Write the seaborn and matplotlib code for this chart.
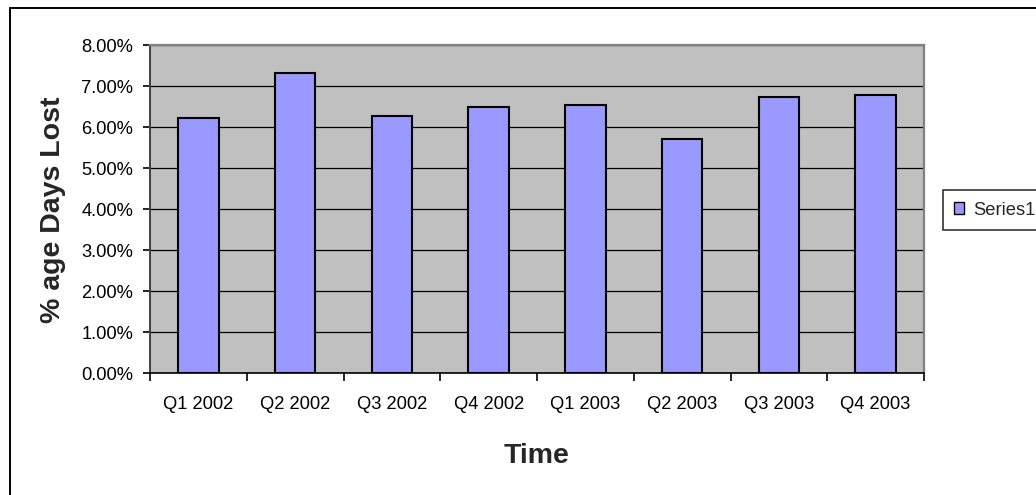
import matplotlib
matplotlib.use("Agg")
import matplotlib.pyplot as plt
import matplotlib.ticker as mticker
from matplotlib.patches import Rectangle
import pandas as pd
import seaborn as sns

# Quarterly absence rate (fraction of working days lost)
quarters = ["Q1 2002", "Q2 2002", "Q3 2002", "Q4 2002",
            "Q1 2003", "Q2 2003", "Q3 2003", "Q4 2003"]
days_lost = [0.0623, 0.0734, 0.0628, 0.0650, 0.0655, 0.0573, 0.0674, 0.0679]
series_name = "Series1"

df = pd.DataFrame({"Quarter": quarters, "Lost": days_lost,
                   "Series": [series_name] * len(quarters)})

sns.set_style("white")
plt.rcParams["font.family"] = ["Liberation Sans", "DejaVu Sans"]

W, H = 1036, 495
fig = plt.figure(figsize=(W / 100, H / 100), dpi=100)
ax = fig.add_axes([150 / W, 1 - 373.3 / H, (924 - 150) / W, (373.3 - 45.5) / H])

sns.barplot(data=df, x="Quarter", y="Lost", hue="Series",
            palette={series_name: "#9999FF"}, saturation=1, width=0.42,
            edgecolor="black", linewidth=1.5, ax=ax, zorder=3)

ax.set_facecolor("#C0C0C0")
ax.set_ylim(0, 0.08)
ax.set_xlim(-0.5, len(quarters) - 0.5)
ax.yaxis.set_major_locator(mticker.MultipleLocator(0.01))
ax.yaxis.set_major_formatter(mticker.PercentFormatter(xmax=1, decimals=2))
ax.grid(axis="y", color="black", linewidth=0.9, zorder=1)
ax.grid(axis="x", visible=False)
ax.set_axisbelow(True)

# category boundary ticks on the x axis
ax.xaxis.set_minor_locator(mticker.FixedLocator(
    [i - 0.5 for i in range(len(quarters) + 1)]))
ax.tick_params(axis="x", which="major", length=0, pad=16, labelsize=13.2,
               colors="black")
ax.tick_params(axis="x", which="minor", length=6, width=1.2, color="black",
               direction="out", bottom=True)
ax.tick_params(axis="y", which="major", length=5, width=1.2, color="black",
               direction="out", left=True, pad=7, labelsize=13.2,
               labelcolor="black")

for side in ("top", "right"):
    ax.spines[side].set_color("#808080")
    ax.spines[side].set_linewidth(1.6)
ax.spines["left"].set_color("#404040")
ax.spines["left"].set_linewidth(1.4)
ax.spines["bottom"].set_color("black")
ax.spines["bottom"].set_linewidth(1.2)

ax.set_xlabel("Time", fontsize=20.5, fontweight="bold", labelpad=22)
ax.set_ylabel("% age Days Lost", fontsize=20.5, fontweight="bold")
ax.yaxis.set_label_coords((66 - 150) / (924 - 150), 0.5)

ax.legend_.remove()
handles, labels = ax.get_legend_handles_labels()
leg = fig.legend(handles, labels, loc="center left",
                 bbox_to_anchor=(943 / W, 1 - 210 / H), borderaxespad=0,
                 fontsize=13.2, frameon=True, fancybox=False,
                 edgecolor="black", handlelength=0.55, handleheight=0.55,
                 handletextpad=0.5, borderpad=0.62)
leg.get_frame().set_linewidth(1.2)
for h in leg.legend_handles:
    h.set_edgecolor("black")
    h.set_linewidth(1.0)

# outer chart border
fig.patches.append(Rectangle((10 / W, -0.2), 1.2, 1 - 8 / H + 0.2,
                             transform=fig.transFigure, fill=False,
                             edgecolor="black", linewidth=1.4))

fig.savefig("out.png", dpi=100)
